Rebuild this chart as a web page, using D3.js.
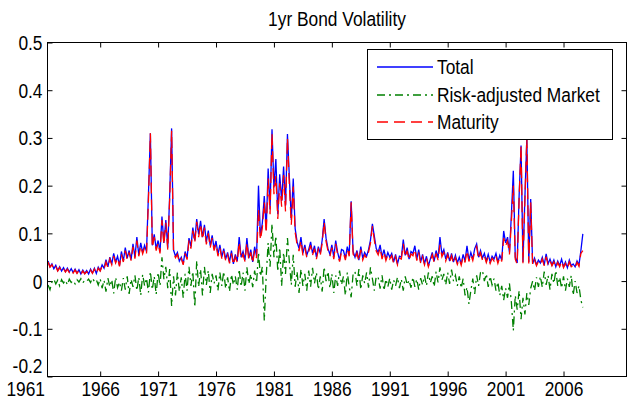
<!DOCTYPE html>
<html>
<head>
<meta charset="utf-8">
<script src="https://cdn.jsdelivr.net/npm/d3@7"></script>
<style>
  html, body { margin: 0; padding: 0; background: #fff; }
  svg text { font-family: "Liberation Sans", Arial, Helvetica, sans-serif; fill: #000; }
</style>
</head>
<body>
<svg id="chart" width="634" height="404"></svg>
<script>
// ---- data -------------------------------------------------------------
const chartTitle = "1yr Bond Volatility";
const seriesNames = ["Total", "Risk-adjusted Market", "Maturity"];

// bi-monthly observations starting mid-1961
const startYear = 1961.5;
const stepYears = 1 / 6;

const total = [
  0.042, 0.030, 0.036,
  0.026, 0.033, 0.022, 0.030, 0.021, 0.028, // 1962
  0.020, 0.027, 0.019, 0.026, 0.018, 0.025, // 1963
  0.017, 0.024, 0.015, 0.023, 0.016, 0.022, // 1964
  0.015, 0.025, 0.017, 0.027, 0.016, 0.029, // 1965
  0.022, 0.034, 0.027, 0.045, 0.030, 0.050, // 1966
  0.036, 0.058, 0.040, 0.052, 0.033, 0.062, // 1967
  0.042, 0.070, 0.048, 0.064, 0.045, 0.078, // 1968
  0.050, 0.092, 0.055, 0.080, 0.060, 0.075, // 1969
  0.062, 0.182, 0.310, 0.075, 0.098, 0.068, // 1970
  0.085, 0.062, 0.135, 0.080, 0.128, 0.070, // 1971
  0.180, 0.320, 0.065, 0.052, 0.060, 0.042, // 1972
  0.050, 0.036, 0.062, 0.048, 0.090, 0.072, // 1973
  0.112, 0.085, 0.130, 0.098, 0.126, 0.092, // 1974
  0.118, 0.082, 0.106, 0.074, 0.096, 0.068, // 1975
  0.084, 0.056, 0.076, 0.050, 0.068, 0.046, // 1976
  0.060, 0.040, 0.064, 0.036, 0.056, 0.042, // 1977
  0.092, 0.050, 0.062, 0.044, 0.090, 0.048, // 1978
  0.066, 0.040, 0.072, 0.052, 0.200, 0.094, // 1979
  0.122, 0.178, 0.108, 0.236, 0.150, 0.318, // 1980
  0.196, 0.256, 0.140, 0.224, 0.168, 0.240, // 1981
  0.158, 0.308, 0.217, 0.128, 0.215, 0.110, // 1982
  0.082, 0.068, 0.092, 0.058, 0.076, 0.054, // 1983
  0.066, 0.082, 0.058, 0.074, 0.050, 0.072, // 1984
  0.058, 0.086, 0.130, 0.090, 0.068, 0.056, // 1985
  0.076, 0.050, 0.085, 0.060, 0.044, 0.066, // 1986
  0.064, 0.048, 0.072, 0.056, 0.167, 0.062, // 1987
  0.050, 0.064, 0.044, 0.072, 0.048, 0.060, // 1988
  0.052, 0.066, 0.086, 0.120, 0.094, 0.068, // 1989
  0.060, 0.076, 0.050, 0.066, 0.046, 0.060, // 1990
  0.050, 0.058, 0.040, 0.056, 0.036, 0.052, // 1991
  0.050, 0.087, 0.054, 0.070, 0.046, 0.062, // 1992
  0.058, 0.074, 0.046, 0.066, 0.040, 0.056, // 1993
  0.036, 0.052, 0.032, 0.046, 0.060, 0.042, // 1994
  0.064, 0.048, 0.092, 0.056, 0.066, 0.046, // 1995
  0.060, 0.042, 0.058, 0.040, 0.054, 0.038, // 1996
  0.050, 0.036, 0.056, 0.042, 0.074, 0.044, // 1997
  0.060, 0.046, 0.068, 0.078, 0.050, 0.064, // 1998
  0.048, 0.058, 0.042, 0.056, 0.040, 0.052, // 1999
  0.046, 0.058, 0.040, 0.054, 0.044, 0.105, // 2000
  0.080, 0.092, 0.060, 0.140, 0.231, 0.050, // 2001
  0.038, 0.179, 0.284, 0.040, 0.176, 0.300, // 2002
  0.040, 0.172, 0.036, 0.048, 0.034, 0.044, // 2003
  0.038, 0.050, 0.034, 0.057, 0.036, 0.046, // 2004
  0.034, 0.044, 0.030, 0.042, 0.032, 0.046, // 2005
  0.030, 0.040, 0.028, 0.044, 0.032, 0.036, // 2006
  0.030, 0.042, 0.034, 0.064, 0.099          // 2007
];

const market = [
  -0.008, -0.018, -0.002,
  0.004, -0.006, 0.002, -0.010, 0.003, -0.004, // 1962
  0.002, -0.008, 0.004, -0.003, 0.001, -0.006, // 1963
  0.003, -0.002, 0.005, -0.004, 0.002, 0.000,  // 1964
  0.004, -0.003, 0.006, -0.001, 0.003, -0.008, // 1965
  0.005, -0.015, 0.002, -0.022, 0.006, -0.012, // 1966
  0.003, -0.026, 0.008, -0.014, -0.002, -0.020,// 1967
  0.006, -0.018, 0.010, -0.027, 0.004, -0.012, // 1968
  0.012, -0.020, 0.008, -0.030, 0.014, -0.010, // 1969
  0.006, -0.024, 0.020, -0.018, 0.010, -0.028, // 1970
  0.018, -0.010, 0.050, 0.004, 0.030, -0.015,  // 1971
  0.025, -0.052, 0.010, -0.030, 0.018, -0.022, // 1972
  0.008, -0.035, 0.015, -0.020, 0.030, -0.010, // 1973
  0.020, -0.055, 0.043, -0.012, 0.025, -0.030, // 1974
  0.030, -0.008, 0.022, -0.025, 0.015, -0.005, // 1975
  0.012, -0.020, 0.018, -0.010, 0.020, -0.016, // 1976
  0.008, -0.022, 0.014, -0.008, 0.010, -0.018, // 1977
  0.025, -0.012, 0.018, -0.020, 0.029, -0.006, // 1978
  0.015, -0.013, 0.022, -0.004, 0.060, 0.010,  // 1979
  0.030, -0.083, 0.010, 0.080, 0.030, 0.120,   // 1980
  0.050, 0.095, 0.020, 0.070, -0.010, 0.060,   // 1981
  0.015, 0.090, 0.040, -0.008, 0.055, -0.012,  // 1982
  0.020, -0.025, 0.025, -0.010, 0.015, -0.020, // 1983
  0.022, -0.012, 0.028, -0.005, 0.018, -0.018, // 1984
  0.010, -0.022, 0.030, 0.000, 0.020, -0.015,  // 1985
  0.015, -0.025, 0.012, -0.010, 0.022, -0.008, // 1986
  0.010, -0.030, 0.018, -0.012, -0.034, 0.015, // 1987
  0.020, -0.010, 0.025, -0.018, 0.012, -0.005, // 1988
  0.018, -0.014, 0.029, 0.005, -0.020, 0.010,  // 1989
  0.008, -0.016, 0.012, -0.020, 0.004, -0.012, // 1990
  0.006, -0.018, 0.002, -0.010, 0.008, -0.015, // 1991
  0.004, -0.020, 0.010, -0.008, 0.002, -0.014, // 1992
  0.008, -0.012, 0.004, -0.018, 0.006, -0.008, // 1993
  0.012, -0.010, 0.018, -0.004, 0.010, -0.012, // 1994
  0.020, -0.003, 0.029, 0.002, 0.015, -0.008,  // 1995
  0.018, -0.006, 0.024, 0.000, 0.012, -0.010,  // 1996
  0.010, -0.015, 0.005, -0.030, -0.013, -0.048,// 1997
  -0.020, 0.005, -0.027, 0.012, -0.010, 0.018, // 1998
  0.022, 0.000, 0.015, -0.012, 0.010, -0.008,  // 1999
  0.005, -0.020, -0.002, -0.030, -0.010, -0.040, // 2000
  -0.015, -0.035, -0.005, -0.045, -0.104, -0.030, // 2001
  -0.060, -0.020, -0.080, -0.035, -0.070, -0.025, // 2002
  -0.050, -0.015, 0.000, -0.020, 0.008, -0.012, // 2003
  0.010, -0.013, 0.020, -0.008, 0.012, -0.018, // 2004
  0.015, -0.005, 0.022, -0.010, 0.008, -0.015, // 2005
  0.010, -0.020, 0.005, -0.012, 0.012, -0.030, // 2006
  0.000, -0.025, -0.010, -0.040, -0.055        // 2007
];

const maturity = [
  0.040, 0.029, 0.034,
  0.025, 0.031, 0.021, 0.028, 0.020, 0.026, // 1962
  0.019, 0.025, 0.018, 0.024, 0.017, 0.023, // 1963
  0.016, 0.022, 0.014, 0.021, 0.015, 0.020, // 1964
  0.014, 0.023, 0.016, 0.025, 0.015, 0.027, // 1965
  0.021, 0.031, 0.025, 0.040, 0.028, 0.046, // 1966
  0.034, 0.052, 0.038, 0.048, 0.031, 0.056, // 1967
  0.040, 0.064, 0.045, 0.060, 0.043, 0.072, // 1968
  0.047, 0.085, 0.052, 0.074, 0.057, 0.070, // 1969
  0.058, 0.170, 0.310, 0.070, 0.092, 0.064, // 1970
  0.080, 0.058, 0.128, 0.076, 0.122, 0.066, // 1971
  0.172, 0.315, 0.061, 0.049, 0.056, 0.040, // 1972
  0.047, 0.034, 0.058, 0.045, 0.085, 0.068, // 1973
  0.106, 0.080, 0.124, 0.092, 0.120, 0.087, // 1974
  0.112, 0.077, 0.100, 0.070, 0.090, 0.064, // 1975
  0.078, 0.052, 0.070, 0.047, 0.063, 0.043, // 1976
  0.055, 0.037, 0.058, 0.034, 0.051, 0.039, // 1977
  0.082, 0.046, 0.056, 0.041, 0.080, 0.044, // 1978
  0.060, 0.037, 0.064, 0.048, 0.150, 0.086, // 1979
  0.112, 0.165, 0.100, 0.215, 0.140, 0.310, // 1980
  0.182, 0.220, 0.130, 0.205, 0.156, 0.222, // 1981
  0.146, 0.300, 0.200, 0.118, 0.198, 0.102, // 1982
  0.076, 0.063, 0.085, 0.054, 0.070, 0.050, // 1983
  0.061, 0.075, 0.054, 0.068, 0.046, 0.066, // 1984
  0.054, 0.079, 0.124, 0.083, 0.063, 0.052, // 1985
  0.070, 0.046, 0.078, 0.055, 0.041, 0.061, // 1986
  0.059, 0.044, 0.066, 0.052, 0.165, 0.057, // 1987
  0.046, 0.059, 0.041, 0.066, 0.044, 0.055, // 1988
  0.048, 0.061, 0.079, 0.115, 0.086, 0.063, // 1989
  0.055, 0.070, 0.046, 0.061, 0.043, 0.055, // 1990
  0.046, 0.053, 0.037, 0.051, 0.034, 0.048, // 1991
  0.046, 0.078, 0.050, 0.064, 0.043, 0.057, // 1992
  0.053, 0.067, 0.043, 0.060, 0.037, 0.051, // 1993
  0.034, 0.048, 0.030, 0.042, 0.055, 0.039, // 1994
  0.058, 0.044, 0.076, 0.051, 0.060, 0.042, // 1995
  0.055, 0.039, 0.053, 0.037, 0.049, 0.035, // 1996
  0.046, 0.033, 0.051, 0.039, 0.064, 0.041, // 1997
  0.055, 0.043, 0.062, 0.072, 0.046, 0.059, // 1998
  0.044, 0.053, 0.039, 0.051, 0.037, 0.048, // 1999
  0.042, 0.053, 0.037, 0.050, 0.041, 0.090, // 2000
  0.074, 0.084, 0.056, 0.125, 0.200, 0.046, // 2001
  0.035, 0.172, 0.284, 0.037, 0.170, 0.300, // 2002
  0.037, 0.165, 0.033, 0.044, 0.032, 0.041, // 2003
  0.035, 0.046, 0.032, 0.051, 0.034, 0.043, // 2004
  0.032, 0.040, 0.028, 0.039, 0.030, 0.042, // 2005
  0.028, 0.037, 0.026, 0.040, 0.030, 0.033, // 2006
  0.028, 0.039, 0.031, 0.058, 0.064          // 2007
];

const xTickYears  = [1961, 1966, 1971, 1976, 1981, 1986, 1991, 1996, 2001, 2006];
const xTickLabels = ["1961", "1966", "1971", "1976", "1981", "1986", "1991", "1996", "2001", "2006"];
const yTickValues = [-0.2, -0.1, 0, 0.1, 0.2, 0.3, 0.4, 0.5];
const yTickLabels = ["-0.2", "-0.1", "0", "0.1", "0.2", "0.3", "0.4", "0.5"];

// ---- layout -------------------------------------------------------------
const box = { left: 47.5, right: 626.5, top: 42.5, bottom: 376.5 };
const FONT = 19.5;   // px
const SX = 0.89;     // narrow lettering

const svg = d3.select("#chart");

const x = d3.scaleLinear().domain([1961.452, 2011.437]).range([box.left, box.right]);
const y = d3.scaleLinear().domain([-0.2, 0.5]).range([box.bottom, box.top]);

function narrowText(parent, tx, ty, str, anchor) {
  return parent.append("text")
    .attr("transform", `translate(${tx},${ty}) scale(${SX},1)`)
    .attr("text-anchor", anchor)
    .style("font-size", FONT + "px")
    .text(str);
}

// title
narrowText(svg, (box.left + box.right) / 2, 26, chartTitle, "middle");

// ---- axes -------------------------------------------------------------
const inTick = 5;
const insideTicks = xTickYears.filter(v => x(v) >= box.left);

const xAxis = svg.append("g")
  .attr("transform", `translate(0,${box.bottom})`)
  .call(d3.axisBottom(x)
    .tickValues(xTickYears)
    .tickFormat((d, i) => xTickLabels[i])
    .tickSizeInner(-inTick).tickSizeOuter(0).tickPadding(4));
xAxis.select(".domain").remove();
xAxis.selectAll(".tick line").attr("stroke", "#000")
  .filter(d => x(d) < box.left).remove();
xAxis.selectAll(".tick text")
  .style("font-size", FONT + "px")
  .attr("fill", "#000")
  .attr("y", 5)
  .attr("dy", "0.72em")
  .attr("transform", `scale(${SX},1)`);
// first year label sits snug against the frame corner
xAxis.selectAll(".tick text")
  .filter(d => x(d) < box.left)
  .attr("text-anchor", "end")
  .attr("x", (box.left - 3 - x(xTickYears[0])) / SX);

const xTop = svg.append("g")
  .attr("transform", `translate(0,${box.top})`)
  .call(d3.axisTop(x).tickValues(insideTicks).tickFormat("")
    .tickSizeInner(-inTick).tickSizeOuter(0));
xTop.select(".domain").remove();
xTop.selectAll(".tick line").attr("stroke", "#000");

const yAxis = svg.append("g")
  .attr("transform", `translate(${box.left},0)`)
  .call(d3.axisLeft(y)
    .tickValues(yTickValues)
    .tickFormat((d, i) => yTickLabels[i])
    .tickSizeInner(-inTick).tickSizeOuter(0).tickPadding(5));
yAxis.select(".domain").remove();
yAxis.selectAll(".tick line").attr("stroke", "#000");
yAxis.selectAll(".tick text")
  .style("font-size", FONT + "px")
  .attr("fill", "#000")
  .attr("x", -5 / SX)
  .attr("dy", "0.36em")
  .attr("transform", `scale(${SX},1)`);
// lowest label lifted clear of the year labels
yAxis.selectAll(".tick text").filter(d => d === yTickValues[0]).attr("y", -11);

const yRight = svg.append("g")
  .attr("transform", `translate(${box.right},0)`)
  .call(d3.axisRight(y).tickValues(yTickValues.slice(1, -1)).tickFormat("")
    .tickSizeInner(-inTick).tickSizeOuter(0));
yRight.select(".domain").remove();
yRight.selectAll(".tick line").attr("stroke", "#000");

// ---- series -------------------------------------------------------------
const plot = svg.append("g");
plot.append("clipPath").attr("id", "plotClip")
  .append("rect")
  .attr("x", box.left).attr("y", box.top)
  .attr("width", box.right - box.left).attr("height", box.bottom - box.top);

const line = d3.line()
  .x((d, i) => x(startYear + i * stepYears))
  .y(d => y(d));

const styles = [
  { data: total,    color: "#0000ff", dash: null },
  { data: market,   color: "#008000", dash: "8,4,2,4" },
  { data: maturity, color: "#ff0000", dash: "11,6" }
];

const lineLayer = plot.append("g").attr("clip-path", "url(#plotClip)");
styles.forEach(s => {
  lineLayer.append("path")
    .datum(s.data)
    .attr("d", line)
    .attr("fill", "none")
    .attr("stroke", s.color)
    .attr("stroke-width", 1.3)
    .attr("stroke-linejoin", "miter")
    .attr("stroke-dasharray", s.dash);
});

// frame
svg.append("rect")
  .attr("x", box.left).attr("y", box.top)
  .attr("width", box.right - box.left).attr("height", box.bottom - box.top)
  .attr("fill", "none").attr("stroke", "#000").attr("stroke-width", 1);

// ---- legend -------------------------------------------------------------
const legend = svg.append("g");
const lg = { x: 367.5, y: 49.5, w: 245, h: 90 };
legend.append("rect")
  .attr("x", lg.x).attr("y", lg.y).attr("width", lg.w).attr("height", lg.h)
  .attr("fill", "#fff").attr("stroke", "#000").attr("stroke-width", 1);

const rowY = [67, 95, 122];
styles.forEach((s, i) => {
  legend.append("line")
    .attr("x1", 377).attr("x2", 433)
    .attr("y1", rowY[i]).attr("y2", rowY[i])
    .attr("stroke", s.color).attr("stroke-width", 1.3)
    .attr("stroke-dasharray", s.dash);
  narrowText(legend, 437, rowY[i] + 7, seriesNames[i], "start");
});
</script>
</body>
</html>
